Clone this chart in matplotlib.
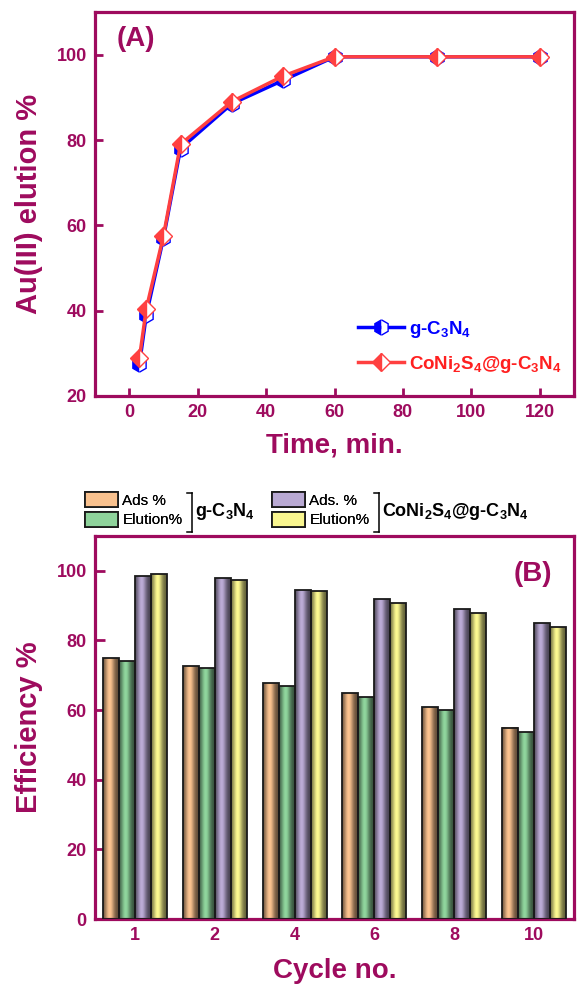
import matplotlib
matplotlib.use("Agg")
import matplotlib.pyplot as plt
import numpy as np
from matplotlib.patches import Patch
from matplotlib.lines import Line2D
from matplotlib.colors import to_rgb

plt.rcParams['font.family'] = ['Liberation Sans', 'DejaVu Sans']
plt.rcParams['mathtext.fontset'] = 'custom'
plt.rcParams['mathtext.rm'] = 'Liberation Sans'
plt.rcParams['mathtext.bf'] = 'Liberation Sans:bold'
plt.rcParams['mathtext.it'] = 'Liberation Sans:italic'

# ---- Data panel A ----
time_min = [3, 5, 10, 15, 30, 45, 60, 90, 120]
elution_gcn = [27.5, 39, 57, 78, 88.5, 94, 99.5, 99.5, 99.5]
elution_coni = [29, 40.5, 57.5, 79, 89, 95, 99.5, 99.5, 99.5]

# ---- Data panel B ----
cycles = ['1', '2', '4', '6', '8', '10']
ads_gcn = [75, 72.8, 67.9, 64.9, 60.9, 55]
elu_gcn = [74.1, 72.1, 67, 63.8, 60, 53.7]
ads_coni = [98.5, 98, 94.5, 92, 89.1, 85]
elu_coni = [99.1, 97.4, 94.2, 90.9, 88, 83.9]

MAROON = '#9E0B5E'
W, H = 577, 988
fig = plt.figure(figsize=(W / 100, H / 100), dpi=100)

def fx(px):
    return px / W

def fy(py):
    return 1 - py / H

def style_axes(ax, ticklen):
    for s in ax.spines.values():
        s.set_color(MAROON)
        s.set_linewidth(2.3)
    ax.tick_params(direction='in', length=ticklen, width=2, color=MAROON,
                   labelcolor=MAROON, labelsize=13, pad=6)
    for lab in ax.get_xticklabels() + ax.get_yticklabels():
        lab.set_fontweight('bold')

# ---------------- Panel A ----------------
axA = fig.add_axes([fx(95), fy(396), fx(574 - 95), (396 - 12) / H])
axA.plot(time_min, elution_gcn, color='#0000FF', lw=2.5, marker='h', ms=11,
         fillstyle='left', markerfacecoloralt='white', mec='#0000FF', mew=1.0,
         label=r'g-C$_\mathbf{3}$N$_\mathbf{4}$', zorder=3)
axA.plot(time_min, elution_coni, color='#FF4040', lw=2.5, marker='D', ms=9.5,
         fillstyle='left', markerfacecoloralt='white', mec='#FF4040', mew=1.0,
         label=r'CoNi$_\mathbf{2}$S$_\mathbf{4}$@g-C$_\mathbf{3}$N$_\mathbf{4}$', zorder=4)
axA.set_xlim(-10, 130)
axA.set_ylim(20, 110)
axA.set_xticks([0, 20, 40, 60, 80, 100, 120])
axA.set_yticks([20, 40, 60, 80, 100])
style_axes(axA, 6)
axA.set_xlabel('Time, min.', fontsize=20, fontweight='bold', color=MAROON, labelpad=8)
axA.set_ylabel('Au(III) elution %', fontsize=21, fontweight='bold', color=MAROON, labelpad=10)
axA.text(0.045, 0.93, '(A)', transform=axA.transAxes, fontsize=20, fontweight='bold',
         color=MAROON, va='center', ha='left')
legA = axA.legend(loc='lower right', bbox_to_anchor=(0.975, 0.055), frameon=False,
                  prop={'size': 13.5, 'weight': 'bold'}, handlelength=2.45,
                  handletextpad=0.3, labelspacing=0.75, borderpad=0, borderaxespad=0)
for t, c in zip(legA.get_texts(), ['#0000FF', '#FF2020']):
    t.set_color(c)

# ---------------- Panel B ----------------
axB = fig.add_axes([fx(95), fy(919), fx(574 - 95), (919 - 536) / H])
x = np.arange(len(cycles))
bw = 0.2
colors = ['#F9C18E', '#8ED39B', '#B9A9D3', '#F9F68F']
series = [ads_gcn, elu_gcn, ads_coni, elu_coni]

tt = np.linspace(0, 1, 60)
shade = 0.38 + 0.64 * np.exp(-((tt - 0.42) / 0.3) ** 2)

def shaded_rgb(c):
    rgb = np.array(to_rgb(c))
    arr = np.clip(rgb[None, :] * shade[:, None], 0, 1)
    return arr[None, :, :]

for i, (vals, c) in enumerate(zip(series, colors)):
    bc = axB.bar(x + (i - 1.5) * bw, vals, width=bw, color=c, edgecolor='#1a1a1a',
                 linewidth=1.3, zorder=2)
    img = shaded_rgb(c)
    for rect in bc:
        x0, y0 = rect.get_x(), rect.get_y()
        w, h = rect.get_width(), rect.get_height()
        im = axB.imshow(img, extent=[x0, x0 + w, y0, y0 + h], aspect='auto',
                        interpolation='bilinear', zorder=2.5)
        im.set_clip_path(rect)
        rect.set_facecolor('none')
        rect.set_zorder(3)

axB.set_xlim(-0.5, 5.5)
axB.set_ylim(0, 110)
axB.set_aspect('auto')
axB.set_xticks(x)
axB.set_xticklabels(cycles)
axB.set_yticks([0, 20, 40, 60, 80, 100])
style_axes(axB, 7)
axB.set_xlabel('Cycle no.', fontsize=20, fontweight='bold', color=MAROON, labelpad=10)
axB.set_ylabel('Efficiency %', fontsize=21, fontweight='bold', color=MAROON, labelpad=10)
axB.text(0.955, 0.9, '(B)', transform=axB.transAxes, fontsize=20, fontweight='bold',
         color=MAROON, va='center', ha='right')

# legend for panel B (above the axes)
def group_legend(x0, labels, cols, bx, name):
    handles = [Patch(facecolor=c, edgecolor='#1a1a1a', linewidth=1.3) for c in cols]
    leg = fig.legend(handles, labels, loc='upper left',
                     bbox_to_anchor=(fx(x0), fy(492)), frameon=False,
                     prop={'size': 11}, handlelength=2.15, handleheight=1.15,
                     handletextpad=0.3, labelspacing=0.25, borderpad=0, borderaxespad=0)
    fig.add_artist(leg)
    y_top, y_bot = fy(493), fy(532)
    fig.add_artist(Line2D([fx(bx), fx(bx)], [y_top, y_bot], color='black', lw=1.1,
                          transform=fig.transFigure))
    for yy in (y_top, y_bot):
        fig.add_artist(Line2D([fx(bx - 5), fx(bx)], [yy, yy], color='black', lw=1.1,
                              transform=fig.transFigure))
    fig.text(fx(bx + 3), fy(512), name, fontsize=13, fontweight='bold', color='black',
             va='center', ha='left')

group_legend(85, ['Ads %', 'Elution%'], colors[:2], 192, r'g-C$_\mathbf{3}$N$_\mathbf{4}$')
group_legend(272, ['Ads. %', 'Elution%'], colors[2:], 379,
             r'CoNi$_\mathbf{2}$S$_\mathbf{4}$@g-C$_\mathbf{3}$N$_\mathbf{4}$')

fig.savefig('out.png', dpi=100)
